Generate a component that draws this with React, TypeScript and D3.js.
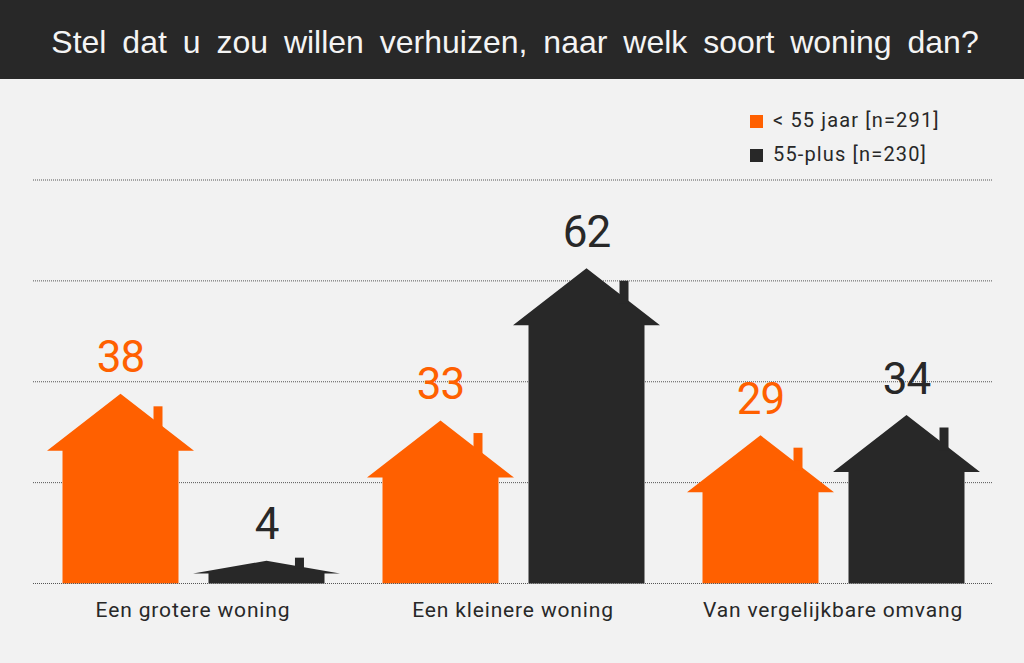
import React from 'react';
import * as d3 from 'd3';

const categories = ['Een grotere woning', 'Een kleinere woning', 'Van vergelijkbare omvang'];
const seriesNames = ['< 55 jaar [n=291]', '55-plus [n=230]'];
// heights, printed labels are the rounded figures
const youngValues = [37.6, 32.3, 29.4];
const oldValues = [4.5, 62.5, 33.4];
const youngLabels = ['38', '33', '29'];
const oldLabels = ['4', '62', '34'];
const gridTicks = [0, 20, 40, 60, 80];

const ORANGE = '#ff6000';
const DARK = '#282828';
const LABEL_FONT = 'Roboto, sans-serif';

const width = 1024;
const height = 663;

const y = d3.scaleLinear().domain([0, 80]).range([583.5, 180]);
const x0 = d3.scaleBand<string>().domain(categories).range([33.5, 993.5]);
const x1 = d3.scaleBand<number>().domain([0, 1]).range([-146, 146]);

const roofHeight = (value: number) => Math.min(57, (y(0) - y(value)) * 0.56);

// house outline: roof keeps its size until the house gets too low for it
const housePath = (cx: number, value: number) => {
  const base = y(0);
  const top = y(value);
  const eave = top + roofHeight(value);
  const path = d3.path();
  path.moveTo(cx - 58, base);
  path.lineTo(cx - 58, eave);
  path.lineTo(cx - 73.5, eave);
  path.lineTo(cx, top);
  path.lineTo(cx + 73.5, eave);
  path.lineTo(cx + 58, eave);
  path.lineTo(cx + 58, base);
  path.closePath();
  return path.toString();
};

const chimney = (value: number) => {
  const top = y(value);
  const roof = roofHeight(value);
  const chimneyTop = top + roof * 0.352 - 7.6;
  return {
    x: 28.5 + ((roof - 13) * 4.5) / 44,
    y: chimneyTop,
    height: top + roof * 0.62 - chimneyTop,
  };
};

const House = ({ cx, value, label, color }: { cx: number; value: number; label: string; color: string }) => {
  const c = chimney(value);
  return (
    <g>
      <path d={housePath(cx, value)} fill={color} />
      <rect x={cx + c.x} y={c.y} width={9} height={c.height} fill={color} />
      <text
        x={cx}
        y={y(value) - 21.5}
        textAnchor="middle"
        fontFamily={LABEL_FONT}
        fontSize={44}
        letterSpacing={-1}
        fill={color}
      >
        {label}
      </text>
    </g>
  );
};

export default function App() {
  return (
    <svg
      width={width}
      height={height}
      style={{ position: 'absolute', left: 0, top: 0, background: '#f2f2f2' }}
    >
      <rect x={0} y={0} width={width} height={79} fill={DARK} />
      <text
        x={515}
        y={53}
        textAnchor="middle"
        fontFamily="'Liberation Sans', Arial, sans-serif"
        fontSize={32}
        wordSpacing={7}
        fill="#f4f4f4"
      >
        Stel dat u zou willen verhuizen, naar welk soort woning dan?
      </text>

      {gridTicks.map((t) => (
        <line
          key={t}
          x1={33}
          x2={993}
          y1={y(t)}
          y2={y(t)}
          stroke="#555"
          strokeWidth={1}
          strokeDasharray="1 1"
        />
      ))}

      {categories.map((cat, i) => {
        const center = x0(cat)! + x0.bandwidth() / 2;
        const cx = (s: number) => center + x1(s)! + x1.bandwidth() / 2;
        return (
          <g key={cat}>
            <House cx={cx(0)} value={youngValues[i]} label={youngLabels[i]} color={ORANGE} />
            <House cx={cx(1)} value={oldValues[i]} label={oldLabels[i]} color={DARK} />
            <text
              x={center - 0.5}
              y={617}
              textAnchor="middle"
              fontFamily={LABEL_FONT}
              fontSize={21}
              letterSpacing={0.85}
              fill={DARK}
            >
              {cat}
            </text>
          </g>
        );
      })}
      <line x1={33} x2={993} y1={y(0)} y2={y(0)} stroke="#555" strokeDasharray="1 1" />

      {seriesNames.map((name, i) => (
        <g key={name} transform={`translate(750,${115 + i * 34})`}>
          <rect x={0} y={0} width={13} height={13} fill={i === 0 ? ORANGE : DARK} />
          <text x={23} y={12} fontFamily={LABEL_FONT} fontSize={20} letterSpacing={1.15} fill={DARK}>
            {name}
          </text>
        </g>
      ))}
    </svg>
  );
}
